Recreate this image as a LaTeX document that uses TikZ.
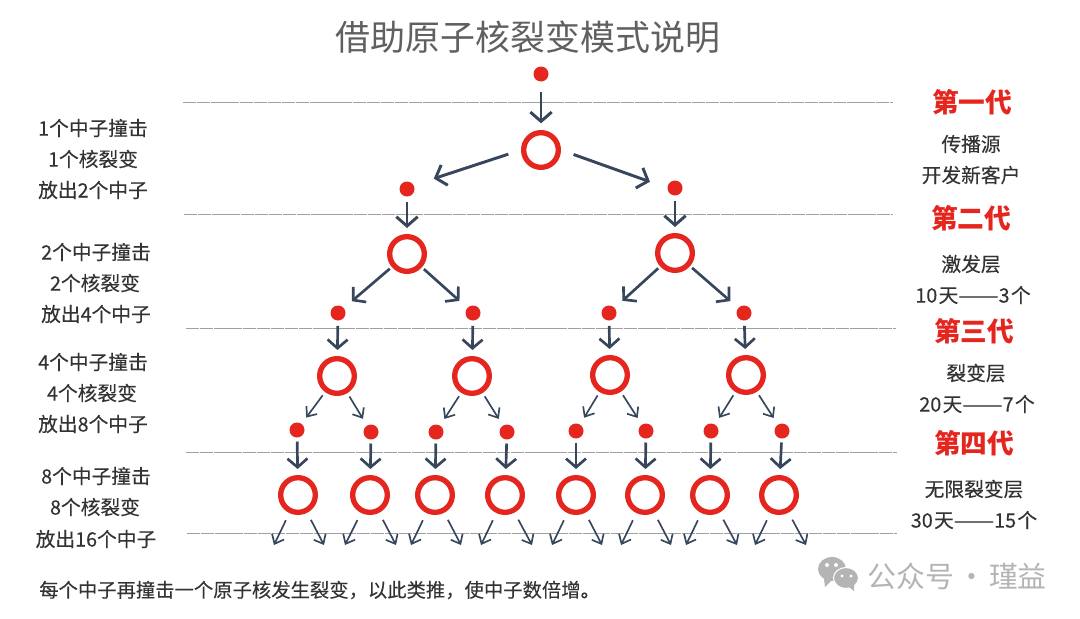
\documentclass[tikz,border=0pt]{standalone}
\usepackage{fontspec}
\setmainfont{Noto Sans CJK SC}
\newfontfamily\sidefont[FakeBold=0.2]{Noto Sans CJK SC}
\usetikzlibrary{arrows.meta}
\definecolor{nred}{HTML}{E5261F}
\definecolor{narrow}{HTML}{37465B}
\definecolor{ntext}{HTML}{333333}
\definecolor{ntitle}{HTML}{606060}
\definecolor{nrule}{HTML}{A0A0A0}
\definecolor{nmark}{HTML}{B4B4B4}
\newcommand{\longdash}{\scalebox{1.22}[1]{——}}
\newcommand{\widecomma}{\char"FF0C\relax}
\tikzset{
  neutron/.style={circle,fill=nred,minimum size=11.25pt,inner sep=0pt,outer sep=0pt},
  nucleus/.style={circle,draw=nred,line width=4pt,minimum size=26pt,inner sep=0pt},
  thickarrow/.style={->,draw=narrow,line width=2.2pt,>={Straight Barb[length=7pt,width=16pt]}},
  midarrow/.style={->,draw=narrow,line width=2pt,>={Straight Barb[length=6.5pt,width=15pt]}},
  thinarrow/.style={->,draw=narrow,line width=1.25pt,>={Straight Barb[length=6pt,width=10pt]}},
  rulerline/.style={draw=nrule,line width=0.6pt,dash pattern=on 10pt off 0.6pt},
  sidetext/.style={text=ntext,font=\sidefont\fontsize{14.8pt}{14.8pt}\selectfont,inner sep=0pt},
  notetext/.style={text=ntext,font=\sidefont\fontsize{14.5pt}{14.5pt}\selectfont,inner sep=0pt},
  gentext/.style={text=nred,font=\fontsize{20pt}{20pt}\selectfont\bfseries,inner sep=0pt}
}
\begin{document}
\begin{tikzpicture}[x=0.75pt,y=-0.75pt]
\useasboundingbox (0,0) rectangle (1080,618);

\draw[rulerline] (183,102) -- (893,102);
\draw[rulerline] (184,214) -- (893,214);
\draw[rulerline] (186,328) -- (896,328);
\draw[rulerline] (186,452) -- (897,452);
\draw[rulerline] (187,533) -- (897,533);

\node[text=ntitle,font=\fontsize{26.2pt}{26.2pt}\selectfont,inner sep=0pt] (title) at (528,37) {借助原子核裂变模式说明};

\node[neutron] (n1) at (541,74) {};
\node[nucleus] (c1) at (541,150) {};
\node[neutron] (n2a) at (407,189) {};
\node[neutron] (n2b) at (675,188) {};
\node[nucleus] (c2a) at (407,254) {};
\node[nucleus] (c2b) at (675,253) {};
\node[neutron] (n3a) at (338,313) {};
\node[neutron] (n3b) at (473,313) {};
\node[neutron] (n3c) at (609,313) {};
\node[neutron] (n3d) at (744,313) {};
\node[nucleus] (c3a) at (337,376) {};
\node[nucleus] (c3b) at (472,376) {};
\node[nucleus] (c3c) at (610,375) {};
\node[nucleus] (c3d) at (746,375) {};
\node[neutron] (n4a) at (297,430) {};
\node[neutron] (n4b) at (371,432) {};
\node[neutron] (n4c) at (436,432) {};
\node[neutron] (n4d) at (507,432) {};
\node[neutron] (n4e) at (576,431) {};
\node[neutron] (n4f) at (646,431) {};
\node[neutron] (n4g) at (711,431) {};
\node[neutron] (n4h) at (782,431) {};
\node[nucleus] (c4a) at (298,495) {};
\node[nucleus] (c4b) at (370,495) {};
\node[nucleus] (c4c) at (435,495) {};
\node[nucleus] (c4d) at (505,495) {};
\node[nucleus] (c4e) at (576,495) {};
\node[nucleus] (c4f) at (645,495) {};
\node[nucleus] (c4g) at (710,495) {};
\node[nucleus] (c4h) at (779,495) {};

\draw[thickarrow,shorten <=8pt,shorten >=5pt] (n1) -- (c1);
\draw[thickarrow,shorten <=10pt,shorten >=16pt] (c1.180) -- (n2a.30);
\draw[thickarrow,shorten <=10pt,shorten >=14pt] (c1.0) -- (n2b.180);
\draw[thickarrow,shorten <=4pt,shorten >=4.5pt] (n2a) -- (c2a);
\draw[thickarrow,shorten <=4pt,shorten >=4.5pt] (n2b) -- (c2b);
\draw[midarrow,shorten <=2pt,shorten >=8pt] (c2a) -- (n3a);
\draw[midarrow,shorten <=2pt,shorten >=8pt] (c2a) -- (n3b);
\draw[midarrow,shorten <=2pt,shorten >=8pt] (c2b) -- (n3c);
\draw[midarrow,shorten <=2pt,shorten >=8pt] (c2b) -- (n3d);
\draw[midarrow,shorten <=4pt,shorten >=4.5pt] (n3a) -- (c3a);
\draw[midarrow,shorten <=4pt,shorten >=4.5pt] (n3b) -- (c3b);
\draw[midarrow,shorten <=4pt,shorten >=4.5pt] (n3c) -- (c3c);
\draw[midarrow,shorten <=4pt,shorten >=4.5pt] (n3d) -- (c3d);
\draw[thinarrow,shorten <=3pt,shorten >=6pt] (c3a) -- (n4a);
\draw[thinarrow,shorten <=3pt,shorten >=6pt] (c3a) -- (n4b);
\draw[thinarrow,shorten <=3pt,shorten >=6pt] (c3b) -- (n4c);
\draw[thinarrow,shorten <=3pt,shorten >=6pt] (c3b) -- (n4d);
\draw[thinarrow,shorten <=3pt,shorten >=6pt] (c3c) -- (n4e);
\draw[thinarrow,shorten <=3pt,shorten >=6pt] (c3c) -- (n4f);
\draw[thinarrow,shorten <=3pt,shorten >=6pt] (c3d) -- (n4g);
\draw[thinarrow,shorten <=3pt,shorten >=6pt] (c3d) -- (n4h);
\draw[midarrow,shorten <=3pt,shorten >=4.5pt] (n4a) -- (c4a);
\draw[midarrow,shorten <=3pt,shorten >=4.5pt] (n4b) -- (c4b);
\draw[midarrow,shorten <=3pt,shorten >=4.5pt] (n4c) -- (c4c);
\draw[midarrow,shorten <=3pt,shorten >=4.5pt] (n4d) -- (c4d);
\draw[midarrow,shorten <=3pt,shorten >=4.5pt] (n4e) -- (c4e);
\draw[midarrow,shorten <=3pt,shorten >=4.5pt] (n4f) -- (c4f);
\draw[midarrow,shorten <=3pt,shorten >=4.5pt] (n4g) -- (c4g);
\draw[midarrow,shorten <=3pt,shorten >=4.5pt] (n4h) -- (c4h);

\coordinate (e1) at (274,545);
\coordinate (e2) at (324,545);
\coordinate (e3) at (345,545);
\coordinate (e4) at (396,545);
\coordinate (e5) at (411,545);
\coordinate (e6) at (461,545);
\coordinate (e7) at (481,545);
\coordinate (e8) at (532,545);
\coordinate (e9) at (552,545);
\coordinate (e10) at (602,545);
\coordinate (e11) at (621,545);
\coordinate (e12) at (671,545);
\coordinate (e13) at (686,545);
\coordinate (e14) at (737,545);
\coordinate (e15) at (755,545);
\coordinate (e16) at (806,545);
\draw[thinarrow,shorten <=6pt] (c4a) -- (e1);
\draw[thinarrow,shorten <=6pt] (c4a) -- (e2);
\draw[thinarrow,shorten <=6pt] (c4b) -- (e3);
\draw[thinarrow,shorten <=6pt] (c4b) -- (e4);
\draw[thinarrow,shorten <=6pt] (c4c) -- (e5);
\draw[thinarrow,shorten <=6pt] (c4c) -- (e6);
\draw[thinarrow,shorten <=6pt] (c4d) -- (e7);
\draw[thinarrow,shorten <=6pt] (c4d) -- (e8);
\draw[thinarrow,shorten <=6pt] (c4e) -- (e9);
\draw[thinarrow,shorten <=6pt] (c4e) -- (e10);
\draw[thinarrow,shorten <=6pt] (c4f) -- (e11);
\draw[thinarrow,shorten <=6pt] (c4f) -- (e12);
\draw[thinarrow,shorten <=6pt] (c4g) -- (e13);
\draw[thinarrow,shorten <=6pt] (c4g) -- (e14);
\draw[thinarrow,shorten <=6pt] (c4h) -- (e15);
\draw[thinarrow,shorten <=6pt] (c4h) -- (e16);

\node[sidetext] (l1a) at (93,128) {1个中子撞击};
\node[sidetext] (l1b) at (93,159) {1个核裂变};
\node[sidetext] (l1c) at (93,190) {放出2个中子};
\node[sidetext] (l2a) at (96,252) {2个中子撞击};
\node[sidetext] (l2b) at (95,283) {2个核裂变};
\node[sidetext] (l2c) at (96,314) {放出4个中子};
\node[sidetext] (l3a) at (93,362) {4个中子撞击};
\node[sidetext] (l3b) at (92,393) {4个核裂变};
\node[sidetext] (l3c) at (93,424) {放出8个中子};
\node[sidetext] (l4a) at (96,476) {8个中子撞击};
\node[sidetext] (l4b) at (95,507) {8个核裂变};
\node[sidetext] (l4c) at (96,539) {放出16个中子};

\node[gentext] (g1) at (972,102) {第一代};
\node[gentext] (g2) at (971,218) {第二代};
\node[gentext] (g3) at (974,331) {第三代};
\node[gentext] (g4) at (974,443) {第四代};
\node[sidetext] (r1a) at (971,144) {传播源};
\node[sidetext] (r1b) at (971,175) {开发新客户};
\node[sidetext] (r2a) at (971,264) {激发层};
\node[sidetext] (r2b) at (973,295) {10\kern1pt天\longdash 3\kern1pt个};
\node[sidetext] (r3a) at (976,373) {裂变层};
\node[sidetext] (r3b) at (977,404) {20\kern1pt天\longdash 7\kern1pt个};
\node[sidetext] (r4a) at (974,489) {无限裂变层};
\node[sidetext] (r4b) at (974,520) {30\kern1pt天\longdash 15\kern1pt个};

\node[notetext,anchor=west] (note) at (39,590) {每个中子再撞击一个原子核发生裂变\widecomma 以此类推\widecomma 使中子数倍增。};

\fill[nmark] (832,569) ellipse [x radius=14,y radius=12];
\fill[nmark] (824,579) -- (825,587) -- (832,580) -- cycle;
\draw[fill=nmark,draw=white,line width=0.8pt] (846,578) ellipse [x radius=12.5,y radius=10.5];
\fill[nmark] (849,587) -- (854,591) -- (854,585) -- cycle;
\fill[white] (827,565) circle [radius=2];
\fill[white] (836,565) circle [radius=2];
\fill[white] (842,576) circle [radius=1.6];
\fill[white] (851,576) circle [radius=1.6];
\node[text=nmark,font=\fontsize{21.7pt}{21.7pt}\selectfont,inner sep=0pt,anchor=west] (mark) at (867,576) {公众号\hspace{-2.6pt} · \hspace{-2.6pt}瑾益};

\end{tikzpicture}
\end{document}
